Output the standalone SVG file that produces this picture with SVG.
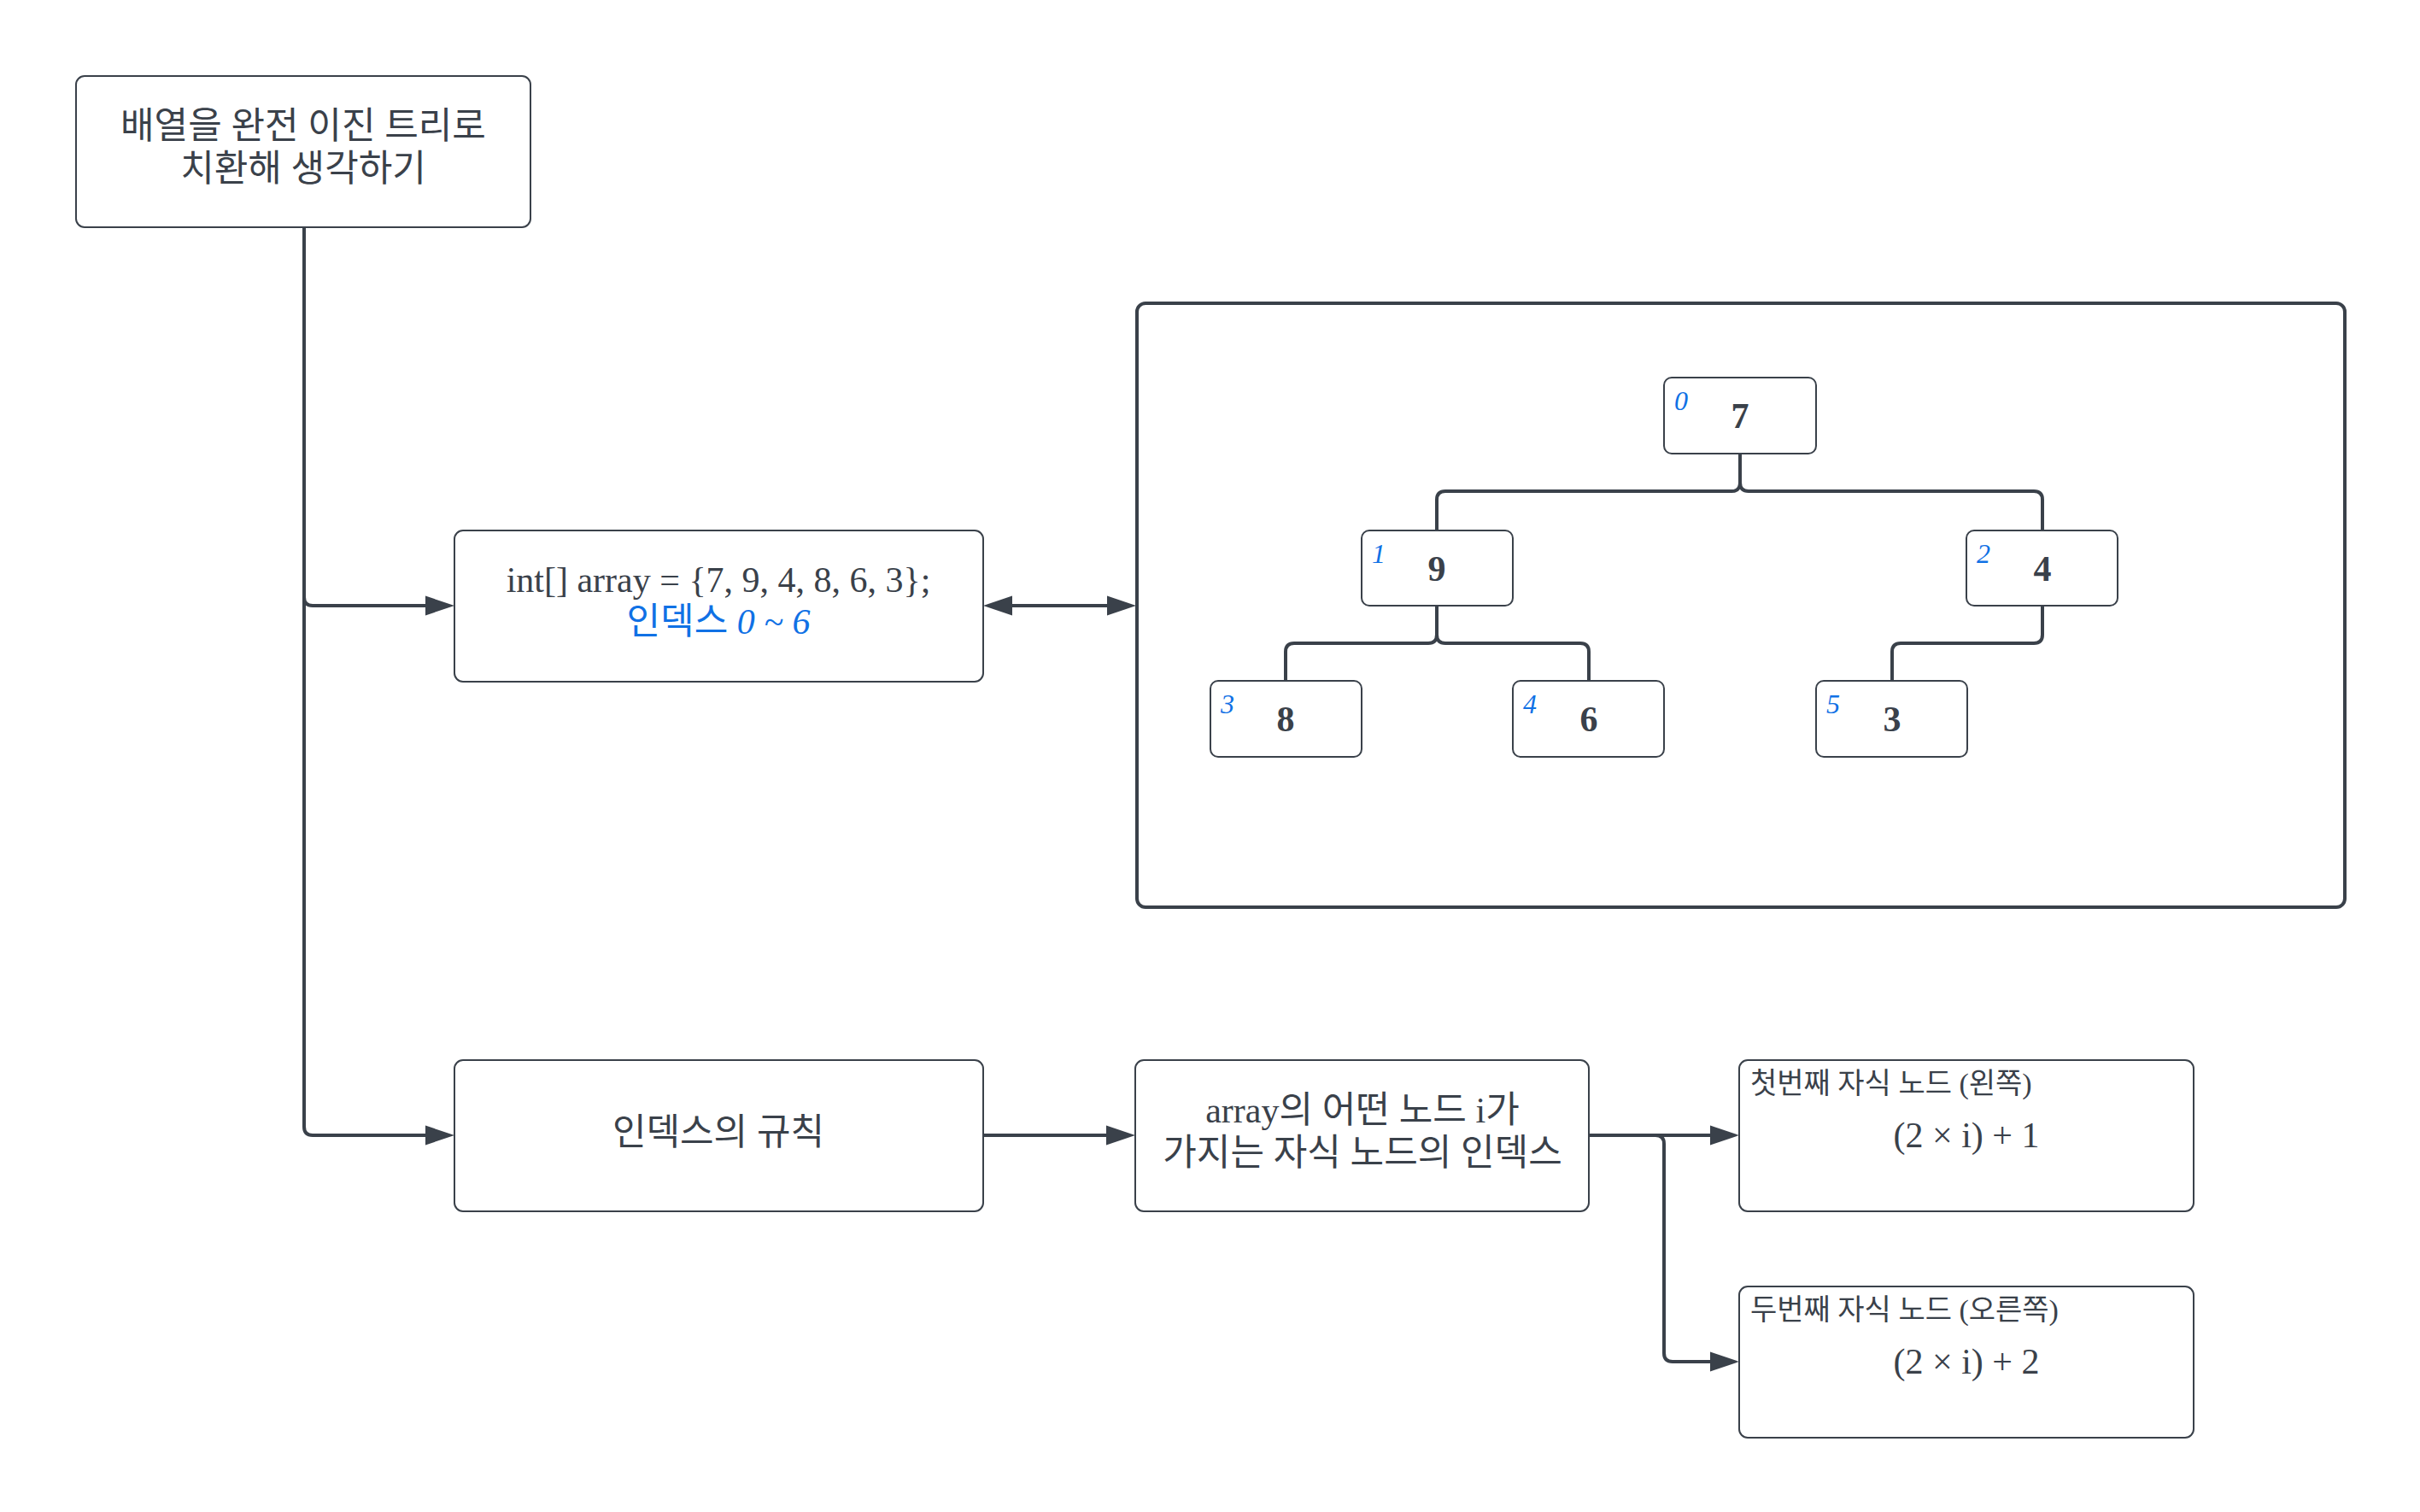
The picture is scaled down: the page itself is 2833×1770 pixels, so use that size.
<svg xmlns="http://www.w3.org/2000/svg" width="2833" height="1770" viewBox="0 0 2833 1770">
<style>
.box{fill:#ffffff;stroke:#3a414a;stroke-width:2}
.frame{fill:#ffffff;stroke:#3a414a;stroke-width:4}
.ln{fill:none;stroke:#3a414a;stroke-width:4}
.t{font-family:'Liberation Serif','Noto Sans CJK KR',serif;fill:#3a414a;font-size:42px}
.k{font-size:43px}
.c{text-anchor:middle}
.blue{fill:#1071e5}
.idx{font-family:'Liberation Serif',serif;font-style:italic;fill:#1071e5;font-size:32px}
.val{font-family:'Liberation Serif',serif;font-weight:bold;fill:#3a414a;font-size:42px;text-anchor:middle}
.sm{font-size:34px}
</style>
<defs>
<marker id="ah" markerUnits="userSpaceOnUse" markerWidth="34" markerHeight="24" viewBox="0 0 34 24" refX="14" refY="12" orient="auto-start-reverse">
<path d="M0,0.5 L34,12 L0,23.5 Z" fill="#3a414a"/>
</marker>
</defs>
<rect width="2833" height="1770" fill="#ffffff"/>

<g id="connectors">
<path class="ln" d="M356,266 V1319 Q356,1329 366,1329 H512" marker-end="url(#ah)"/>
<path class="ln" d="M356,699 Q356,709 366,709 H512" marker-end="url(#ah)"/>
<path class="ln" d="M1171,709 H1310" marker-start="url(#ah)" marker-end="url(#ah)"/>
<path class="ln" d="M1151,1329 H1309" marker-end="url(#ah)"/>
<path class="ln" d="M1860,1329 H2016" marker-end="url(#ah)"/>
<path class="ln" d="M1938,1329 Q1948,1329 1948,1339 V1584 Q1948,1594 1958,1594 H2016" marker-end="url(#ah)"/>
</g>

<g id="n-title">
<rect class="box" x="89" y="89" width="532" height="177" rx="10"/>
<text class="t k c" x="355" y="162">배열을 완전 이진 트리로</text>
<text class="t k c" x="355" y="212">치환해 생각하기</text>
</g>

<g id="n-array">
<rect class="box" x="532" y="621" width="619" height="177" rx="10"/>
<text class="t c" x="841" y="693">int[] array = {7, 9, 4, 8, 6, 3};</text>
<text class="t c blue" x="841" y="742"><tspan font-size="43px">인덱스</tspan> <tspan font-style="italic">0 ~ 6</tspan></text>
</g>

<g id="n-tree">
<rect class="frame" x="1331" y="355" width="1414" height="707" rx="10"/>
<g id="tree-edges">
<path class="ln" d="M2037,531 V565 Q2037,575 2027,575 H1692 Q1682,575 1682,585 V621"/>
<path class="ln" d="M2037,531 V565 Q2037,575 2047,575 H2381 Q2391,575 2391,585 V621"/>
<path class="ln" d="M1682,709 V743 Q1682,753 1672,753 H1515 Q1505,753 1505,763 V797"/>
<path class="ln" d="M1682,709 V743 Q1682,753 1692,753 H1850 Q1860,753 1860,763 V797"/>
<path class="ln" d="M2391,709 V743 Q2391,753 2381,753 H2225 Q2215,753 2215,763 V797"/>
</g>
<g id="t0">
<rect class="box" x="1948" y="442" width="178" height="89" rx="9"/>
<text class="idx" x="1960" y="480">0</text>
<text class="val" x="2037" y="501">7</text>
</g>
<g id="t1">
<rect class="box" x="1594" y="621" width="177" height="88" rx="9"/>
<text class="idx" x="1606" y="659">1</text>
<text class="val" x="1682" y="680">9</text>
</g>
<g id="t2">
<rect class="box" x="2302" y="621" width="177" height="88" rx="9"/>
<text class="idx" x="2314" y="659">2</text>
<text class="val" x="2391" y="680">4</text>
</g>
<g id="t3">
<rect class="box" x="1417" y="797" width="177" height="89" rx="9"/>
<text class="idx" x="1429" y="835">3</text>
<text class="val" x="1505" y="856">8</text>
</g>
<g id="t4">
<rect class="box" x="1771" y="797" width="177" height="89" rx="9"/>
<text class="idx" x="1783" y="835">4</text>
<text class="val" x="1860" y="856">6</text>
</g>
<g id="t5">
<rect class="box" x="2126" y="797" width="177" height="89" rx="9"/>
<text class="idx" x="2138" y="835">5</text>
<text class="val" x="2215" y="856">3</text>
</g>
</g>

<g id="n-rule">
<rect class="box" x="532" y="1241" width="619" height="177" rx="10"/>
<text class="t k c" x="841" y="1340">인덱스의 규칙</text>
</g>

<g id="n-child">
<rect class="box" x="1329" y="1241" width="531" height="177" rx="10"/>
<text class="t c" x="1595" y="1314">array<tspan font-size="43px">의 어떤 노드 </tspan>i<tspan font-size="43px">가</tspan></text>
<text class="t k c" x="1595" y="1364">가지는 자식 노드의 인덱스</text>
</g>

<g id="n-left">
<rect class="box" x="2036" y="1241" width="532" height="177" rx="10"/>
<text class="t sm" x="2049" y="1280">첫번째 자식 노드 (왼쪽)</text>
<text class="t c" x="2302" y="1343">(2 × i) + 1</text>
</g>

<g id="n-right">
<rect class="box" x="2036" y="1506" width="532" height="177" rx="10"/>
<text class="t sm" x="2049" y="1545">두번째 자식 노드 (오른쪽)</text>
<text class="t c" x="2302" y="1608">(2 × i) + 2</text>
</g>
</svg>
